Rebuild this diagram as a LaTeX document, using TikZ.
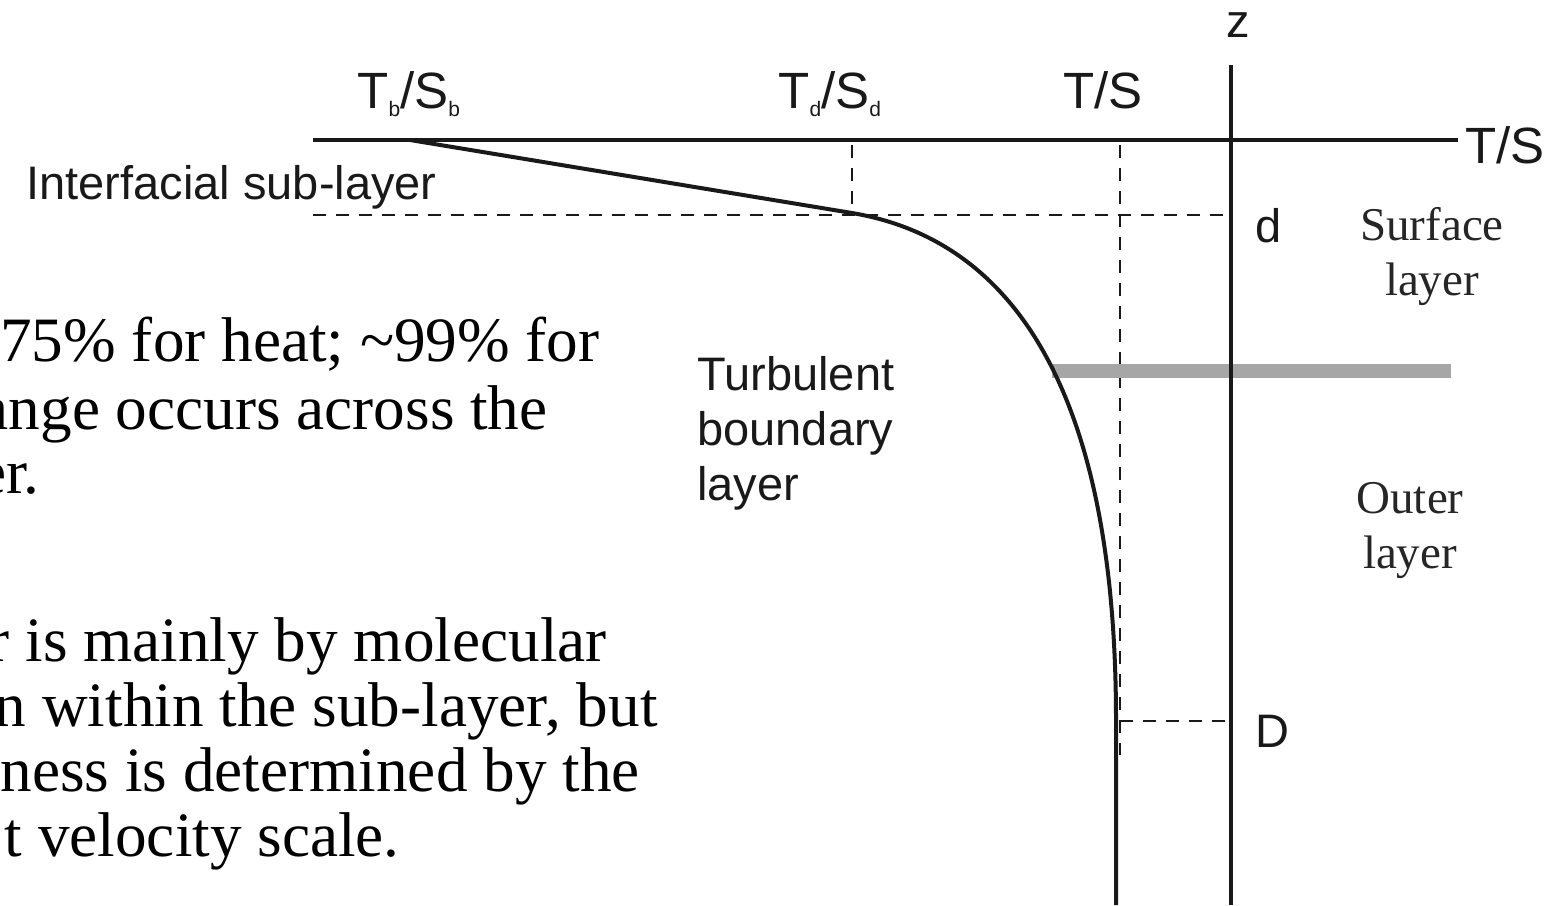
\documentclass[tikz,border=0pt]{standalone}
\usepackage{fontspec}
\setmainfont{Liberation Serif}
\newfontfamily\sansf{Liberation Sans}
\newcommand\subsc[1]{\raisebox{-4pt}{\fontsize{10.5}{11}\selectfont #1}}
\begin{document}
\begin{tikzpicture}[x=0.5pt,y=-0.5pt,
  axis/.style={line width=2pt, draw=black!90},
  prof/.style={line width=2pt, draw=black!90},
  guide/.style={line width=1pt, draw=black!90, dash pattern=on 6.5pt off 5pt},
  bar/.style={line width=7pt, draw=black!35},
  lbl/.style={inner sep=0pt, font=\sansf\fontsize{23.5}{27}\selectfont, text=black!90},
  big/.style={font=\sansf\fontsize{25.5}{29}\selectfont},
  slbl/.style={inner sep=0pt, anchor=base, font=\fontsize{23.5}{27}\selectfont, text=black!85},
  body/.style={inner sep=0pt, anchor=base east, font=\fontsize{31.6}{36}\selectfont, text=black}]
\useasboundingbox (0,0) rectangle (1568,905);
% coordinates
\coordinate (hL) at (313,140);
\coordinate (hR) at (1458,140);
\coordinate (vT) at (1231,65);
\coordinate (vB) at (1231,905);
\coordinate (pb) at (410,140);
\coordinate (pd) at (852,213);
\coordinate (pD) at (1116,720);
\coordinate (pE) at (1116,905);
\coordinate (dL) at (313,215);
\coordinate (dR) at (1225,215);
\coordinate (tdT) at (852,145);
\coordinate (tsT) at (1120,145);
\coordinate (tsB) at (1120,755);
\coordinate (DL) at (1120,721);
\coordinate (DR) at (1229,721);
\coordinate (barL) at (1052,371);
\coordinate (barR) at (1451,371);
% dashed guides
\draw[guide] (dL) -- (dR);
\draw[guide] (tdT) -- (pd);
\draw[guide] (tsT) -- (tsB);
\draw[guide] (DL) -- (DR);
% grey bar
\draw[bar] (barL) -- (barR);
% axes
\draw[axis] (hL) -- (hR);
\draw[axis] (vT) -- (vB);
% profile
\draw[prof] (pb) -- (pd) .. controls (1030,243) and (1116,420) .. (pD) -- (pE);
% labels
\node[lbl, anchor=base] (z) at (1238,37) {z};
\node[lbl, big, anchor=base west] (tb) at (357,108) {T\subsc{b}/S\subsc{b}};
\node[lbl, big, anchor=base west] (td) at (778,108) {T\subsc{d}/S\subsc{d}};
\node[lbl, big, anchor=base west] (ts) at (1063,108) {T/S};
\node[lbl, big, anchor=base west] (tsr) at (1465,163) {T/S};
\node[lbl, anchor=base west] (dlab) at (1255,242) {d};
\node[lbl, anchor=base west] (Dlab) at (1255,747) {D};
\node[lbl, anchor=base east] (isl) at (437,199) {Interfacial sub-layer};
\node[lbl, anchor=base west] (tbl1) at (697,390) {Turbulent};
\node[lbl, anchor=base west] (tbl2) at (697,445) {boundary};
\node[lbl, anchor=base west] (tbl3) at (697,500) {layer};
\node[slbl] (sl1) at (1432,240) {Surface};
\node[slbl] (sl2) at (1432,295) {layer};
\node[slbl] (ol1) at (1410,513) {Outer};
\node[slbl] (ol2) at (1410,568) {layer};
% body text
\node[body] (b1) at (600,361) {75\% for heat; \textasciitilde99\% for};
\node[body] (b2) at (548,429) {ange occurs across the};
\node[body] (b3) at (40,493) {er.};
\node[body] (b4) at (607,661) {r is mainly by molecular};
\node[body] (b5) at (658,726) {n within the sub-layer, but};
\node[body] (b6) at (640,791) {ness is determined by the};
\node[body] (b7) at (400,856) {t velocity scale.};
\end{tikzpicture}
\end{document}
